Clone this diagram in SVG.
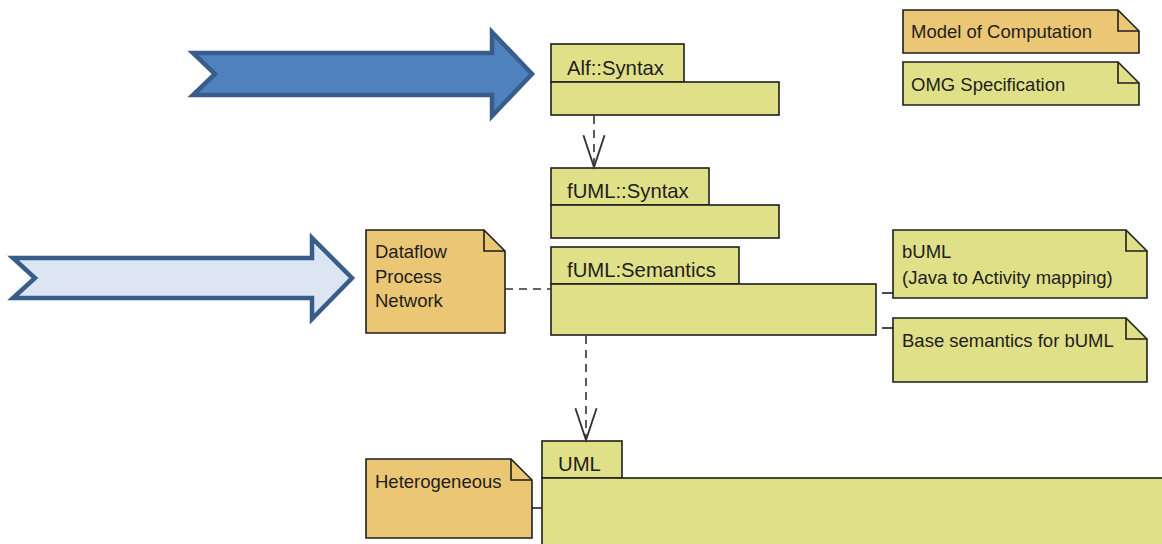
<svg xmlns="http://www.w3.org/2000/svg" width="1162" height="544" viewBox="0 0 1162 544">
<style>
.pkg{fill:#e0e088;stroke:#1e1e1e;stroke-width:1.6}
.note-y{fill:#e0e088;stroke:#1e1e1e;stroke-width:1.6}
.note-o{fill:#ebc674;stroke:#1e1e1e;stroke-width:1.6}
.fold{fill:none;stroke:#1e1e1e;stroke-width:1.6}
.ptxt{font-family:"Liberation Sans",Arial,sans-serif;font-size:20.3px;fill:#1e1e1e}
.ntxt{font-family:"Liberation Sans",Arial,sans-serif;font-size:18.5px;fill:#1e1e1e}
.dash{fill:none;stroke:#333;stroke-width:1.6;stroke-dasharray:8 6}
.solid{fill:none;stroke:#1e1e1e;stroke-width:1.6}
.bigarrow{stroke:#385d8a;stroke-width:4.5;stroke-linejoin:miter}
</style>
<defs>
<marker id="openV" markerUnits="userSpaceOnUse" markerWidth="40" markerHeight="40" refX="0" refY="0" viewBox="-30 -15 34 30" orient="auto" overflow="visible">
<path d="M-27,-9 L0,0 L-27,9" fill="none" stroke="#333" stroke-width="1.6"/>
</marker>
</defs>
<rect width="1162" height="544" fill="#ffffff"/>

<g id="arrow-top">
<polygon class="bigarrow" fill="#4f81bd" points="193,53 492,53 492,32 532,74 492,116 492,95 193,95 215,74"/>
</g>
<g id="arrow-left">
<polygon class="bigarrow" fill="#dce6f2" points="13,258 312,258 312,238 352,278 312,319 312,298 13,298 35,278"/>
</g>

<g id="legend-moc">
<polygon class="note-o" points="903,10 1118,10 1139,31 1139,53 903,53"/>
<polyline class="fold" points="1118,10 1118,31 1139,31"/>
<text class="ntxt" x="911" y="38">Model of Computation</text>
</g>
<g id="legend-omg">
<polygon class="note-y" points="903,62 1118,62 1139,83 1139,105 903,105"/>
<polyline class="fold" points="1118,62 1118,83 1139,83"/>
<text class="ntxt" x="911" y="91">OMG Specification</text>
</g>

<g id="alf-syntax">
<rect class="pkg" x="551" y="44" width="133" height="38"/>
<rect class="pkg" x="551" y="82" width="228" height="33"/>
<text class="ptxt" x="567" y="75">Alf::Syntax</text>
</g>

<g id="fuml-syntax">
<rect class="pkg" x="551" y="168" width="158" height="37"/>
<rect class="pkg" x="551" y="205" width="228" height="33"/>
<text class="ptxt" x="567" y="198">fUML::Syntax</text>
</g>

<g id="fuml-semantics">
<rect class="pkg" x="551" y="247" width="188" height="37"/>
<rect class="pkg" x="551" y="284" width="325" height="51"/>
<text class="ptxt" x="567" y="277">fUML:Semantics</text>
</g>

<g id="uml">
<rect class="pkg" x="542" y="441" width="80" height="37"/>
<rect class="pkg" x="542" y="478" width="630" height="80"/>
<text class="ptxt" x="558" y="471">UML</text>
</g>

<g id="dataflow">
<polygon class="note-o" points="366,230 484,230 505,251 505,333 366,333"/>
<polyline class="fold" points="484,230 484,251 505,251"/>
<text class="ntxt" x="375" y="258">Dataflow</text>
<text class="ntxt" x="375" y="283">Process</text>
<text class="ntxt" x="375" y="307">Network</text>
</g>

<g id="heterogeneous">
<polygon class="note-o" points="366,459 511,459 532,480 532,538 366,538"/>
<polyline class="fold" points="511,459 511,480 532,480"/>
<text class="ntxt" x="375" y="488">Heterogeneous</text>
</g>

<g id="buml">
<polygon class="note-y" points="893,230 1126,230 1147,251 1147,298 893,298"/>
<polyline class="fold" points="1126,230 1126,251 1147,251"/>
<text class="ntxt" x="902" y="258">bUML</text>
<text class="ntxt" x="902" y="284">(Java to Activity mapping)</text>
</g>

<g id="base-semantics">
<polygon class="note-y" points="893,318 1126,318 1147,339 1147,382 893,382"/>
<polyline class="fold" points="1126,318 1126,339 1147,339"/>
<text class="ntxt" x="902" y="347">Base semantics for bUML</text>
</g>

<g id="connectors">
<line class="dash" x1="594" y1="116" x2="594" y2="167" marker-end="url(#openV)"/>
<line class="dash" x1="586" y1="336" x2="586" y2="440" marker-end="url(#openV)"/>
<line class="dash" x1="505" y1="289" x2="551" y2="289"/>
<line class="solid" x1="882" y1="293" x2="893" y2="293"/>
<line class="solid" x1="882" y1="328" x2="893" y2="328"/>
<line class="solid" x1="532" y1="508" x2="542" y2="508"/>
</g>
</svg>
